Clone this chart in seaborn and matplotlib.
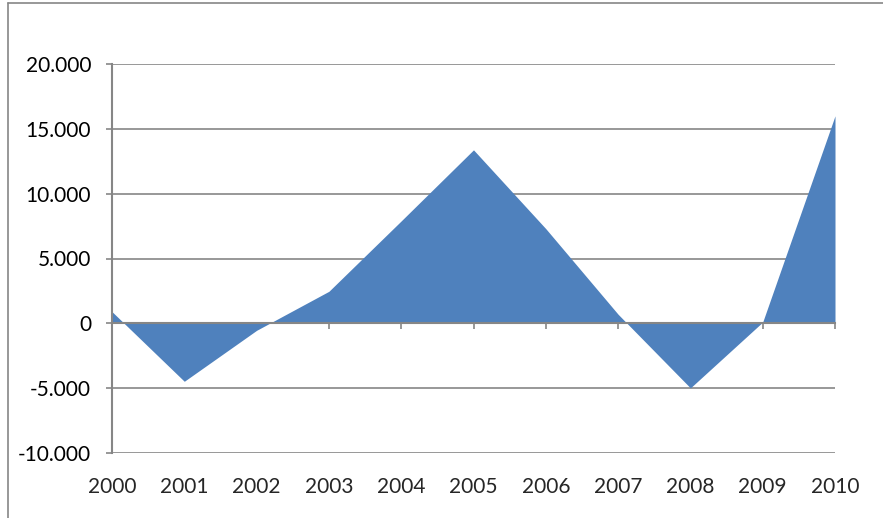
import numpy as np
import pandas as pd
import matplotlib
matplotlib.use("Agg")
import matplotlib.pyplot as plt
from matplotlib.ticker import FuncFormatter
from matplotlib.lines import Line2D
import seaborn as sns

years = [2000, 2001, 2002, 2003, 2004, 2005, 2006, 2007, 2008, 2009, 2010]
values = [900, -4470, -540, 2470, 7900, 13380, 7300, 700, -4980, 100, 16000]
y_ticks = [-10000, -5000, 0, 5000, 10000, 15000, 20000]

df = pd.DataFrame({"year": years, "value": values})

sns.set_style("white")
plt.rcParams["font.family"] = ["Lato", "DejaVu Sans"]

grey = "#868686"
fill_color = "#4F81BD"

fig = plt.figure(figsize=(8.83, 5.18), dpi=100)
ax = fig.add_axes([112 / 883, 1 - 453 / 518, (835 - 112) / 883, (453 - 64) / 518])

# area chart: line drawn through seaborn, filled to zero
sns.lineplot(data=df, x="year", y="value", ax=ax, color=fill_color, linewidth=0)
ax.fill_between(df["year"], df["value"], 0, color=fill_color, linewidth=0, zorder=2)

ax.set_xlim(years[0], years[-1])
ax.set_ylim(y_ticks[0], y_ticks[-1])
ax.set_yticks(y_ticks)
ax.yaxis.set_major_formatter(FuncFormatter(lambda v, p: f"{int(v):,}".replace(",", ".")))
ax.grid(axis="y", color=grey, linewidth=1.2, zorder=1)
ax.set_axisbelow(True)
ax.set_xlabel("")
ax.set_ylabel("")

for side in ["top", "right"]:
    ax.spines[side].set_visible(False)
ax.spines["left"].set_color(grey)
ax.spines["left"].set_linewidth(1.5)
ax.spines["bottom"].set_position(("data", 0))
ax.spines["bottom"].set_color(grey)
ax.spines["bottom"].set_linewidth(1.5)
ax.spines["bottom"].set_zorder(3)

ax.tick_params(axis="y", direction="out", length=4, width=1.2, color=grey,
               left=True, pad=11, labelsize=15, labelcolor="black")
ax.set_xticks(years)
ax.tick_params(axis="x", direction="out", length=4, width=1.2, color=grey,
               bottom=True, labelbottom=False)

# category labels along the bottom of the plot area
sec = ax.secondary_xaxis(0.0)
sec.set_xticks(years)
sec.set_xticklabels([str(y) for y in years])
sec.tick_params(axis="x", length=0, pad=17, labelsize=15)
sec.spines["bottom"].set_visible(False)

# chart border
fig.add_artist(Line2D([8 / 883, 8 / 883], [0, 1 - 3 / 518], color=grey, linewidth=1.2))
fig.add_artist(Line2D([8 / 883, 1], [1 - 3 / 518, 1 - 3 / 518], color=grey, linewidth=1.2))

fig.savefig("out.png", dpi=100)
